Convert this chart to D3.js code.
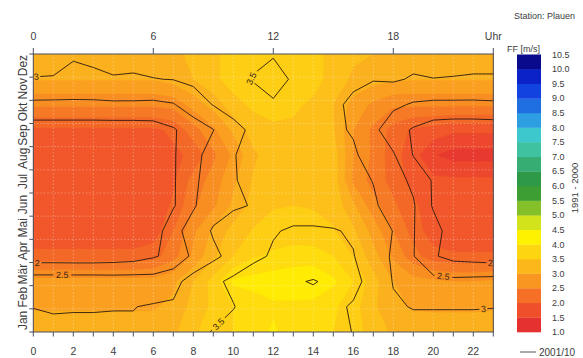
<!DOCTYPE html>
<html><head><meta charset="utf-8">
<script src="https://cdn.jsdelivr.net/npm/d3@7"></script>
<style>
body{margin:0;background:#fff}
svg{display:block}
text{font-family:"Liberation Sans",Arial,sans-serif;fill:#3c3c3c}
</style>
</head><body>
<svg id="c" width="583" height="358"></svg>
<script>
// ---------------- data ----------------
const months = ["Jan","Feb","Mär","Apr","Mai","Jun","Jul","Aug","Sep","Okt","Nov","Dez"];
const hours = d3.range(24);
const bottomTickLabels = [0,2,4,6,8,10,12,14,16,18,20,22];
const topTickHours = [0,6,12,18,23];
const topTickText = ["0","6","12","18","Uhr"];
const legendLevels = [1.0,1.5,2.0,2.5,3.0,3.5,4.0,4.5,5.0,5.5,6.0,6.5,7.0,7.5,8.0,8.5,9.0,9.5,10.0,10.5];
const legendColors = ["#e63131","#ef4f2b","#f57026","#f99621","#fcb81b","#fed511","#fff200","#d2e21b",
  "#84c02a","#3d9e34","#2e9a48","#36ad72","#3ec2a0","#3cc8cc","#2e9ee2","#1f6ee2","#1242e0","#0a22c8","#0a0a8c"];

// mean wind speed FF [m/s] 1991-2000, rows Jan..Dez, columns hour 0..23 (filled)
const ff1991_2000 = [
 [3.1,3.1,3.1,3.1,3.1,3.1,3.1,3.2,3.45,3.65,3.75,3.85,4.05,3.85,3.8,3.75,3.6,3.4,3.2,3.1,3.1,3.1,3.1,3.1],
 [2.98,2.98,2.98,2.98,2.98,2.98,2.98,3.05,3.35,3.55,3.75,3.85,3.95,3.93,3.9,3.8,3.6,3.3,3.05,2.98,2.97,2.97,2.97,2.98],
 [2.85,2.85,2.85,2.85,2.85,2.85,2.85,2.95,3.25,3.6,4.05,4.1,4.15,4.2,4.25,4.05,3.75,3.35,3.0,2.85,2.8,2.75,2.75,2.8],
 [2.1,2.1,2.1,2.1,2.1,2.1,2.15,2.4,2.8,3.2,3.5,3.72,3.8,3.85,3.85,3.75,3.5,3.1,2.7,2.35,2.1,2.05,2.05,2.05],
 [1.75,1.75,1.75,1.75,1.75,1.75,1.85,2.25,2.7,3.05,3.35,3.52,3.6,3.62,3.6,3.52,3.3,2.9,2.5,2.15,1.85,1.75,1.75,1.75],
 [1.75,1.75,1.75,1.75,1.75,1.75,1.8,2.05,2.45,2.7,3.05,3.35,3.48,3.5,3.48,3.42,3.05,2.6,2.3,2.05,1.85,1.75,1.75,1.75],
 [1.75,1.75,1.75,1.75,1.75,1.75,1.75,1.95,2.35,2.6,2.95,3.28,3.4,3.45,3.45,3.4,2.7,2.4,2.15,1.9,1.8,1.8,1.8,1.8],
 [1.75,1.75,1.75,1.75,1.75,1.75,1.75,1.95,2.05,2.45,2.8,3.2,3.4,3.45,3.45,3.38,2.75,2.45,2.1,1.85,1.52,1.4,1.4,1.4],
 [1.95,1.95,1.95,1.95,1.95,1.95,1.95,2.05,2.4,2.7,3.05,3.38,3.45,3.45,3.42,3.28,2.75,2.45,2.15,1.95,1.9,1.8,1.8,1.8],
 [2.55,2.55,2.55,2.55,2.55,2.55,2.55,2.6,2.85,3.1,3.42,3.55,3.6,3.55,3.45,3.25,2.9,2.7,2.55,2.55,2.55,2.55,2.55,2.55],
 [3.02,3.02,3.02,3.02,3.02,3.02,3.02,3.1,3.25,3.45,3.6,3.7,3.75,3.7,3.6,3.4,3.2,3.1,3.05,3.02,3.02,3.02,3.02,3.02],
 [3.15,3.15,3.15,3.15,3.15,3.15,3.15,3.2,3.3,3.45,3.6,3.7,3.7,3.65,3.55,3.45,3.3,3.25,3.2,3.15,3.15,3.15,3.15,3.15]
];

// wind speed 2001/10 (isolines), rows Jan..Dez, columns hour 0..23
const ff2001_10 = [
 [3.3,3.1,3.1,3.1,3.05,3.05,3.2,3.25,3.4,3.52,3.65,3.7,3.75,3.75,3.7,3.6,3.49,3.35,3.25,3.15,3.15,3.15,3.15,3.15],
 [2.98,2.96,2.97,2.97,2.99,2.99,3.04,3.06,3.2,3.35,3.48,3.7,3.85,3.9,3.8,3.6,3.45,3.25,3.05,2.98,2.98,2.98,2.98,2.99],
 [2.77,2.77,2.77,2.77,2.75,2.75,2.72,2.85,3.2,3.4,3.6,3.75,3.85,3.95,4.03,3.9,3.65,3.3,2.98,2.85,2.65,2.62,2.65,2.68],
 [1.73,1.73,1.72,1.72,1.75,1.8,1.95,2.15,2.6,2.9,3.15,3.4,3.55,3.6,3.65,3.6,3.52,3.2,2.95,2.52,2.05,1.85,1.8,1.75],
 [1.7,1.65,1.6,1.6,1.6,1.6,1.7,2.35,2.7,3.05,3.2,3.35,3.47,3.55,3.55,3.53,3.45,3.2,2.99,2.52,2.2,1.75,1.6,1.65],
 [1.7,1.7,1.7,1.65,1.6,1.6,1.7,1.95,2.45,2.8,2.95,3.02,3.2,3.3,3.3,3.25,3.15,3.05,2.85,2.55,1.95,1.6,1.55,1.6],
 [1.7,1.7,1.65,1.6,1.55,1.55,1.7,1.95,2.4,2.75,2.95,3.2,3.35,3.35,3.3,3.2,3.1,2.99,2.7,2.4,1.95,1.6,1.55,1.6],
 [1.7,1.7,1.65,1.6,1.6,1.6,1.7,1.95,2.35,2.7,2.97,3.2,3.3,3.3,3.25,3.15,3.08,2.75,2.55,1.98,1.6,1.5,1.5,1.6],
 [1.75,1.75,1.75,1.75,1.75,1.75,1.78,1.95,2.25,2.49,2.85,3.1,3.3,3.3,3.2,3.1,2.95,2.62,2.2,1.95,1.75,1.7,1.7,1.72],
 [2.4,2.4,2.4,2.4,2.42,2.42,2.4,2.47,2.75,3.02,3.2,3.35,3.42,3.4,3.35,3.1,2.9,2.75,2.6,2.45,2.4,2.4,2.4,2.42],
 [2.98,2.95,2.9,2.93,2.97,2.96,2.99,3.01,3.1,3.2,3.35,3.52,3.75,3.42,3.35,3.2,3.1,3.02,3.05,2.96,2.99,2.98,2.96,2.96],
 [3.2,3.3,3.04,3.08,3.15,3.12,3.15,3.2,3.3,3.35,3.4,3.42,3.45,3.4,3.35,3.3,3.25,3.2,3.2,3.15,3.2,3.15,3.15,3.15]
];

const lineLevels = [2, 2.5, 3, 3.5, 4];
// isoline labels: [level, hour, month index] (approximate anchor)
const lineLabelLevel = [3, 2, 2.5, 3.5, 3.5, 2, 2.5, 3];
const lineLabelHour  = [0.15, 0.2, 1.45, 10.7, 9.3, 22.85, 20.5, 22.5];
const lineLabelMonth = [10.04, 2.77, 2.24, 10.1, 0.28, 2.77, 2.18, 1.0];

// ---------------- drawing ----------------
const svg = d3.select("#c");
const X0 = 33.3, X1 = 493.3, Y0 = 54, Y1 = 332;
const x = d3.scaleLinear().domain([0, 23]).range([X0, X1]);
const y = d3.scaleLinear().domain([0, 11]).range([Y1, Y0]);
const yBand = d3.scaleBand().domain(months).range([Y1, Y0]);

const nx = 24, ny = 12;
const flat = g => { const a = []; g.forEach(r => r.forEach(v => a.push(v))); return a; };
const contours = d3.contours().size([nx, ny]);
const proj = d3.geoTransform({ point(px, py) { this.stream.point(x(px - 0.5), y(py - 0.5)); } });
const path = d3.geoPath(proj);

const anchors = legendColors.map((c, i) => legendLevels[i] + 0.25);
const colorAt = d3.scaleLinear().domain(anchors).range(legendColors).interpolate(d3.interpolateRgb).clamp(true);
const fillThresholds = d3.range(4, 43).map(i => i / 4);

const defs = svg.append("defs");
defs.append("clipPath").attr("id", "plotclip").append("rect")
  .attr("x", X0).attr("y", Y0).attr("width", X1 - X0).attr("height", Y1 - Y0);

const plot = svg.append("g").attr("clip-path", "url(#plotclip)");
plot.append("rect").attr("x", X0).attr("y", Y0).attr("width", X1 - X0).attr("height", Y1 - Y0)
  .attr("fill", colorAt(1.0));
const fvals = flat(ff1991_2000);
fillThresholds.forEach(t => {
  const c = contours.contour(fvals, t);
  if (c.coordinates.length) plot.append("path").attr("d", path(c)).attr("fill", colorAt(t + 0.125)).attr("stroke", colorAt(t + 0.125)).attr("stroke-width", 0.3);
});

// faint dotted grid
const grid = plot.append("g").attr("stroke", "#fff").attr("stroke-opacity", 0.4)
  .attr("stroke-width", 0.8).attr("stroke-dasharray", "1.5,2");
hours.slice(1, 23).forEach(h => grid.append("line").attr("x1", x(h)).attr("x2", x(h)).attr("y1", Y0).attr("y2", Y1));
months.forEach((mo, i) => { if (i > 0) { const yy = yBand(mo) + yBand.bandwidth(); grid.append("line").attr("x1", X0).attr("x2", X1).attr("y1", yy).attr("y2", yy); } });

// isolines 2001/10 with labels
const lvals = flat(ff2001_10);
const mask = defs.append("mask").attr("id", "lblmask").attr("maskUnits", "userSpaceOnUse")
  .attr("x", 0).attr("y", 0).attr("width", 583).attr("height", 358);
mask.append("rect").attr("x", 0).attr("y", 0).attr("width", 583).attr("height", 358).attr("fill", "#fff");
const lineG = plot.append("g").attr("mask", "url(#lblmask)");
const ringsPx = {};
lineLevels.forEach(l => {
  const c = contours.contour(lvals, l);
  ringsPx[l] = [];
  c.coordinates.forEach(poly => poly.forEach(ring => ringsPx[l].push(ring.map(p => [x(p[0] - 0.5), y(p[1] - 0.5)]))));
  lineG.append("path").attr("d", path(c)).attr("fill", "none").attr("stroke", "#2b1a10").attr("stroke-width", 0.9);
});
const labelG = plot.append("g");
lineLabelLevel.forEach((lev, i) => {
  const ax = x(lineLabelHour[i]), ay = y(lineLabelMonth[i]);
  let best = null;
  (ringsPx[lev] || []).forEach(ring => {
    for (let k = 0; k < ring.length - 1; k++) {
      const a = ring[k], b = ring[k + 1];
      const dx = b[0] - a[0], dy = b[1] - a[1], L2 = dx * dx + dy * dy;
      if (L2 === 0) continue;
      let t = ((ax - a[0]) * dx + (ay - a[1]) * dy) / L2; t = Math.max(0, Math.min(1, t));
      const px = a[0] + t * dx, py = a[1] + t * dy;
      if (px < X0 + 2 || px > X1 - 2 || py < Y0 || py > Y1) continue;
      const d = (px - ax) ** 2 + (py - ay) ** 2;
      if (!best || d < best.d) best = { d, px, py, ang: Math.atan2(dy, dx) * 180 / Math.PI };
    }
  });
  if (!best) return;
  let ang = best.ang; if (ang > 90) ang -= 180; if (ang <= -90) ang += 180;
  const txt = String(lev);
  const w = txt.length * 5 + 3;
  mask.append("rect").attr("x", -w / 2).attr("y", -5).attr("width", w).attr("height", 10).attr("fill", "#000")
    .attr("transform", `translate(${best.px},${best.py}) rotate(${ang})`);
  labelG.append("text").attr("transform", `translate(${best.px},${best.py}) rotate(${ang})`)
    .attr("text-anchor", "middle").attr("dy", "0.35em").style("font-size", "9px").style("fill", "#3a2414").text(txt);
});

// frame
svg.append("rect").attr("x", X0).attr("y", Y0).attr("width", X1 - X0).attr("height", Y1 - Y0)
  .attr("fill", "none").attr("stroke", "#4a4f5e").attr("stroke-width", 1);

// top axis
topTickHours.forEach((h, i) => {
  svg.append("line").attr("x1", x(h)).attr("x2", x(h)).attr("y1", Y0).attr("y2", Y0 - 6).attr("stroke", "#4a4f5e");
  svg.append("text").attr("x", x(h)).attr("y", 39.5).attr("text-anchor", "middle").style("font-size", "10.5px").text(topTickText[i]);
});
// bottom axis
hours.forEach(h => svg.append("line").attr("x1", x(h)).attr("x2", x(h)).attr("y1", Y1).attr("y2", Y1 + 4.5).attr("stroke", "#4a4f5e"));
bottomTickLabels.forEach(h => svg.append("text").attr("x", x(h)).attr("y", 355).attr("text-anchor", "middle").style("font-size", "10.5px").text(h));
// left axis
months.forEach((mo, i) => {
  const yy = yBand(mo) + yBand.bandwidth();
  svg.append("line").attr("x1", X0 - 4).attr("x2", X0).attr("y1", yy).attr("y2", yy).attr("stroke", "#4a4f5e");
  svg.append("text").attr("transform", `translate(27,${yBand(mo) + yBand.bandwidth() / 2}) rotate(-90)`)
    .attr("text-anchor", "middle").style("font-size", "12px").text(mo);
});
svg.append("line").attr("x1", X0 - 4).attr("x2", X0).attr("y1", Y0).attr("y2", Y0).attr("stroke", "#4a4f5e");

// legend
svg.append("text").attr("x", 514).attr("y", 19).style("font-size", "9px").text("Station: Plauen");
svg.append("text").attr("x", 507).attr("y", 52).style("font-size", "9px").text("FF [m/s]");
const ly = d3.scaleLinear().domain([1.0, 10.5]).range([332, 54.5]);
legendColors.forEach((c, i) => {
  svg.append("rect").attr("x", 517).attr("width", 24)
    .attr("y", ly(legendLevels[i + 1])).attr("height", ly(legendLevels[i]) - ly(legendLevels[i + 1]) + 0.3)
    .attr("fill", c);
});
legendLevels.forEach(v => svg.append("text").attr("x", 552).attr("y", ly(v)).attr("dy", "0.35em")
  .style("font-size", "9px").text(v.toFixed(1)));
svg.append("text").attr("transform", "translate(578,188) rotate(-90)").attr("text-anchor", "middle")
  .style("font-size", "9.5px").text("1991 - 2000");
svg.append("line").attr("x1", 520).attr("x2", 536).attr("y1", 352).attr("y2", 352).attr("stroke", "#555").attr("stroke-width", 1);
svg.append("text").attr("x", 539).attr("y", 355.5).style("font-size", "10px").text("2001/10");
</script>
</body></html>
